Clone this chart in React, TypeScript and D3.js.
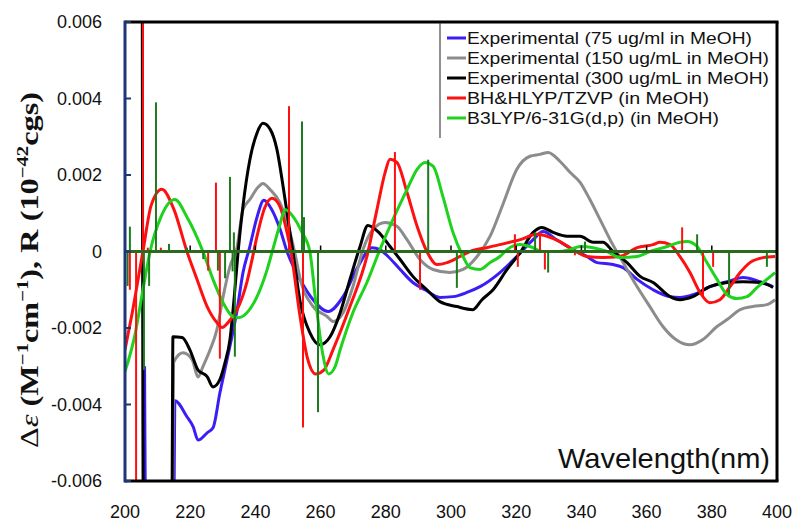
import React from "react";
import * as d3 from "d3";

type P = [number, number];

const blueExp: P[] = [[206.0,-0.0030],[206.3,-0.0065],[215.0,-0.0065],[215.3,-0.0039],[219.0,-0.00432],[220.9,-0.00458],[222.4,-0.00493],[225.2,-0.00474],[227,-0.00461],[229.1,-0.0037],[231.3,-0.00283],[234.4,-0.00152],[236.2,-0.00055],[238.3,0.00013],[240.5,0.0009],[242.6,0.00134],[245,0.0011],[247.5,0.0006],[249.7,0],[253.7,-0.00073],[257.7,-0.00126],[262.3,-0.00157],[266.9,-0.00118],[271.5,-0.00039],[275.8,0.0001],[278.2,0.00005],[280.7,-0.00013],[284.4,-0.00047],[288.3,-0.00081],[292,-0.001],[296.6,-0.0012],[300.6,-0.00118],[304.9,-0.00107],[308.9,-0.00092],[315,-0.00055],[320.2,-0.00013],[325.2,0.00031],[328.2,0.00052],[332.5,0.0003],[337.4,0.00005],[341.7,-0.00013],[344.8,-0.00029],[349.7,-0.00034],[352.8,-0.00042],[357.1,-0.00073],[362,-0.001],[367.2,-0.00118],[370.2,-0.0012],[374.2,-0.00113],[379.4,-0.00092],[384.7,-0.00079],[389.6,-0.00068],[394.8,-0.00079],[398.8,-0.00092]];

const grayExp: P[] = [[214.6,-0.0065],[214.9,-0.0029],[217.8,-0.00265],[220.6,-0.00283],[222.4,-0.00328],[223.9,-0.00301],[226.1,-0.00257],[228.2,-0.00204],[230.1,-0.00118],[232.2,-0.00039],[234.4,0.00013],[236.2,0.0011],[238.3,0.00136],[240.8,0.00168],[242.3,0.00178],[244.5,0.00162],[247.5,0.00128],[250.6,0.0005],[252.0,0],[253.7,-0.0007],[257.7,-0.00144],[262.0,-0.0017],[263.8,-0.00183],[266.9,-0.0016],[269.9,-0.00092],[273.0,0.00005],[276.1,0.00058],[279.8,0.00076],[283.4,0.00066],[286.5,0.00031],[290.5,-0.00021],[294.5,-0.00047],[299.7,-0.00055],[303.7,-0.00047],[308.0,-0.00013],[312.0,0.0004],[316.0,0.00125],[320.2,0.00215],[324.2,0.00249],[327.3,0.00254],[329.8,0.00259],[333.4,0.00236],[336.5,0.00207],[339.6,0.00181],[342.6,0.00136],[345.7,0.00084],[348.8,0.00031],[352.8,-0.00029],[357.1,-0.00092],[361.0,-0.00144],[365.0,-0.00196],[369.3,-0.00232],[373.3,-0.00244],[377.3,-0.0023],[381.6,-0.00196],[384.7,-0.00178],[388.7,-0.00152],[392.6,-0.00144],[396.9,-0.00139],[399.4,-0.00126]];

const blackExp: P[] = [[205.3,0.0065],[205.6,-0.0065],[214.4,-0.0065],[214.7,-0.00223],[217.5,-0.00225],[219.9,-0.00257],[222.4,-0.0031],[225.2,-0.00327],[227.0,-0.00354],[229.1,-0.00335],[230.7,-0.0029],[232.2,-0.0023],[233.5,-0.0012],[234.7,0],[236.2,0.0012],[238.3,0.0024],[240.5,0.0031],[242.3,0.00335],[244.5,0.0032],[246.6,0.00267],[248.5,0.0017],[250.6,0.0005],[251.5,0],[253.7,-0.0013],[256.7,-0.00212],[259.8,-0.00244],[262.9,-0.00223],[266.0,-0.0016],[269.0,-0.00073],[272.1,0.00013],[274.5,0.00068],[277.6,0.00052],[281.3,0.00013],[284.4,-0.00021],[288.3,-0.00065],[292.6,-0.001],[296.6,-0.00131],[301.8,-0.00144],[306.7,-0.00152],[309.5,-0.00126],[312.9,-0.001],[317.2,-0.00047],[321.2,-0.00003],[325.2,0.0005],[327.9,0.00063],[331.3,0.0005],[335.6,0.0004],[339.6,0.0004],[343.6,0.00024],[346.6,0.00024],[349.7,0],[354.0,-0.00029],[358.0,-0.00065],[362.0,-0.00081],[367.2,-0.00118],[370.2,-0.00126],[374.2,-0.00118],[379.4,-0.00092],[384.7,-0.00081],[389.6,-0.00079],[394.8,-0.00081],[398.8,-0.00094]];

const redCalc: P[] = [[200,-0.00257],[202,-0.0017],[205.5,0],[208,0.0012],[211.3,0.00163],[215,0.0011],[219,0],[222.1,-0.00073],[225.2,-0.00144],[228.2,-0.00186],[229.8,-0.00199],[231.6,-0.00186],[234.4,-0.00152],[237.4,-0.0008],[239,-0.0002],[240.5,0.0004],[242.9,0.00115],[245.1,0.00139],[247.5,0.00118],[249.7,0.0005],[250.9,0],[253.7,-0.0017],[256,-0.0028],[258.5,-0.0032],[261,-0.0031],[263.8,-0.00257],[269,-0.00144],[274.2,-0.00013],[277.3,0.0011],[279.8,0.00207],[281.3,0.00241],[283.4,0.00233],[286.5,0.00155],[289.6,0.00066],[292.6,0],[295.7,-0.00034],[298.8,-0.00029],[302.8,-0.00013],[306.7,0.00003],[311,0.0001],[315,0.00018],[321.2,0.00031],[326.4,0.00045],[329.4,0.0004],[333.4,0.00026],[337.4,0.00005],[341.7,-0.00013],[346.6,-0.00016],[351.8,-0.00013],[357.1,0.0001],[362,0.00018],[364.1,0.00024],[367.2,0.00018],[370.2,-0.00013],[373.3,-0.00055],[376.4,-0.00107],[379.4,-0.00134],[382.5,-0.00126],[385.6,-0.00092],[388.7,-0.00055],[391.7,-0.00029],[395.7,-0.00016],[399.4,-0.00013]];

const greenCalc: P[] = [[200,-0.00314],[203,-0.0022],[205.5,-0.001],[207.7,0],[211,0.0009],[215.3,0.00136],[219,0.0009],[223.9,0],[227,-0.00073],[230.1,-0.00134],[233.1,-0.0017],[234.7,-0.00173],[237.4,-0.0016],[240.5,-0.00118],[243.5,-0.0005],[245.5,0.0001],[247.5,0.0007],[249.1,0.0011],[251.5,0.00092],[254.3,0.0005],[256.7,0],[258.5,-0.0013],[260.5,-0.0026],[262.5,-0.0032],[264.5,-0.003],[266,-0.00257],[269.9,-0.0016],[274.2,-0.00081],[278.2,0.00005],[282.2,0.00084],[286.5,0.00162],[289.6,0.00215],[292,0.00233],[294.5,0.00223],[297.5,0.00144],[300.6,0.0005],[303.7,-0.00013],[305.8,-0.00042],[308.9,-0.00047],[312,-0.00029],[315,-0.00013],[317.2,0.00005],[321.2,0.00018],[324.2,0.00013],[328.2,0],[332.5,0],[336.5,0.00005],[339.6,0.00013],[343.6,0.0001],[347.9,0],[351.8,-0.00016],[357.1,-0.00013],[361,0],[366.3,0.00013],[370.2,0.00024],[372.4,0.00026],[375.5,0.00013],[378.5,-0.00029],[381.6,-0.00073],[384.7,-0.00113],[387.7,-0.00123],[390.8,-0.00118],[393.9,-0.00094],[396.9,-0.00073],[399.4,-0.00055]];

const redSticks: P[] = [[201.5,-0.001],[203.4,-0.0065],[205.5,0.0065],[207,0.0001],[211,0.0001],[225.5,-0.0005],[227.9,0.0018],[229.1,-0.0028],[250.3,0.0038],[254.6,-0.0046],[282.8,0.0026],[290.5,-0.001],[319.6,0.00045],[320.5,-0.0004],[327.3,0.0005],[328.8,-0.00047],[338,-0.0001],[370.9,0.00063],[377.3,-0.0012],[380.4,-0.0004]];

const greenSticks: P[] = [[200.8,-0.0009],[201.5,0.00065],[205.8,-0.0031],[207.4,-0.0009],[209.5,0.0039],[213.5,0.0002],[219,0.0001],[224,-0.0002],[228.5,-0.0005],[230.7,-0.0007],[232.2,0.00195],[233.0,-0.00052],[233.4,0.0005],[233.7,-0.00275],[254.3,0.0034],[254.9,0.0009],[259.2,-0.0042],[293,0.0024],[301.8,-0.00095],[325.8,0.0005],[329.8,-0.00055],[341.1,0.00026],[375.5,0.00045],[385.3,-0.00113],[396.9,-0.0004]];

const xTicks = [200, 220, 240, 260, 280, 300, 320, 340, 360, 380, 400];
const yTicks = [-0.006, -0.004, -0.002, 0, 0.002, 0.004, 0.006];
const yTickLabels = ["-0.006", "-0.004", "-0.002", "0", "0.002", "0.004", "0.006"];

const legendLabels = [
  "Experimental (75 ug/ml in MeOH)",
  "Experimental (150 ug/mL in MeOH)",
  "Experimental (300 ug/mL in MeOH)",
  "BH&HLYP/TZVP (in MeOH)",
  "B3LYP/6-31G(d,p) (in MeOH)",
];
const legendColors = ["#3a1ef5", "#8c8c8c", "#000000", "#ff1010", "#1ed21e"];
const legendWidths = [285, 302, 302, 242, 252];

const W = 796, H = 523;
const L = 125, R = 777, T = 22, B = 481;

export default function App() {
  const x = d3.scaleLinear().domain([200, 400]).range([L, R]);
  const y = d3.scaleLinear().domain([-0.006, 0.006]).range([B, T]);
  const line = d3.line<P>().x(d => x(d[0])).y(d => y(d[1])).curve(d3.curveMonotoneX);
  const font = "Arial, 'Liberation Sans', sans-serif";
  const series: [P[], string][] = [
    [blueExp, legendColors[0]],
    [grayExp, legendColors[1]],
    [blackExp, legendColors[2]],
    [redCalc, legendColors[3]],
    [greenCalc, legendColors[4]],
  ];
  return (
    <svg width={W} height={H} style={{ position: "absolute", left: 0, top: 0, background: "#fff" }}>
      <defs>
        <clipPath id="plot">
          <rect x={L} y={T} width={R - L} height={B - T} />
        </clipPath>
      </defs>
      <rect x={0} y={0} width={W} height={H} fill="#fff" />
      <g clipPath="url(#plot)">
        {series.map(([d, c], i) => (
          <path key={i} d={line(d) || ""} fill="none" stroke={c} strokeWidth={3} strokeLinejoin="round" />
        ))}
        {redSticks.map((d, i) => (
          <line key={"r" + i} x1={x(d[0])} x2={x(d[0])} y1={y(0)} y2={y(d[1])} stroke="#ff1010" strokeWidth={2} />
        ))}
        {greenSticks.map((d, i) => (
          <line key={"g" + i} x1={x(d[0])} x2={x(d[0])} y1={y(0)} y2={y(d[1])} stroke="#1e7a1e" strokeWidth={2} />
        ))}
        {xTicks.map((t, i) => (
          <line key={"xt" + i} x1={x(t)} x2={x(t)} y1={y(0) - 6} y2={y(0)} stroke="#000" strokeWidth={1.5} />
        ))}
        <line x1={L} x2={R} y1={y(0)} y2={y(0)} stroke="#2b6a1c" strokeWidth={3} />
      </g>
      {/* frame */}
      <line x1={L} x2={R + 1.5} y1={T} y2={T} stroke="#000" strokeWidth={3} />
      <line x1={R} x2={R} y1={T} y2={B} stroke="#000" strokeWidth={3} />
      <line x1={L} x2={R + 1.5} y1={B} y2={B} stroke="#000" strokeWidth={3} />
      <line x1={L} x2={L} y1={T - 1.5} y2={B + 1.5} stroke="#1c3678" strokeWidth={3} />
      {yTicks.map((t, i) => (
        <g key={"yt" + i}>
          <line x1={L} x2={L + 6} y1={y(t)} y2={y(t)} stroke="#1c3678" strokeWidth={2} />
          <text x={102} y={y(t)} dy="0.35em" textAnchor="end" fontFamily={font} fontSize={18} fill="#111">{yTickLabels[i]}</text>
        </g>
      ))}
      {xTicks.map((t, i) => (
        <text key={"xl" + i} x={x(t)} y={518} textAnchor="middle" fontFamily={font} fontSize={18} fill="#111">{t}</text>
      ))}
      <text x={558} y={468} fontFamily={font} fontSize={28} fill="#111" textLength={212} lengthAdjust="spacingAndGlyphs">Wavelength(nm)</text>
      {/* legend */}
      <line x1={440} x2={440} y1={T} y2={138} stroke="#222" strokeWidth={1} />
      {legendLabels.map((s, i) => (
        <g key={"lg" + i}>
          <line x1={447} x2={466} y1={38 + i * 20} y2={38 + i * 20} stroke={legendColors[i]} strokeWidth={3} />
          <text x={467} y={38 + i * 20} dy="0.36em" fontFamily={font} fontSize={17} fill="#111" textLength={legendWidths[i]} lengthAdjust="spacingAndGlyphs">{s}</text>
        </g>
      ))}
      {/* y title */}
      <text transform="translate(38,270) rotate(-90)" textAnchor="middle" fontFamily="'Liberation Serif', 'DejaVu Serif', serif" fontSize={25} fontWeight="bold" fill="#111" textLength={356} lengthAdjust="spacingAndGlyphs">
        <tspan fontWeight="normal">Δ</tspan><tspan fontWeight="normal" fontStyle="italic">ε</tspan>
        <tspan> (M</tspan><tspan fontSize={16} dy={-10}>−1</tspan><tspan dy={10}>cm</tspan><tspan fontSize={16} dy={-10}>−1</tspan><tspan dy={10}>), R (10</tspan><tspan fontSize={16} dy={-10}>−42</tspan><tspan dy={10}>cgs)</tspan>
      </text>
    </svg>
  );
}
